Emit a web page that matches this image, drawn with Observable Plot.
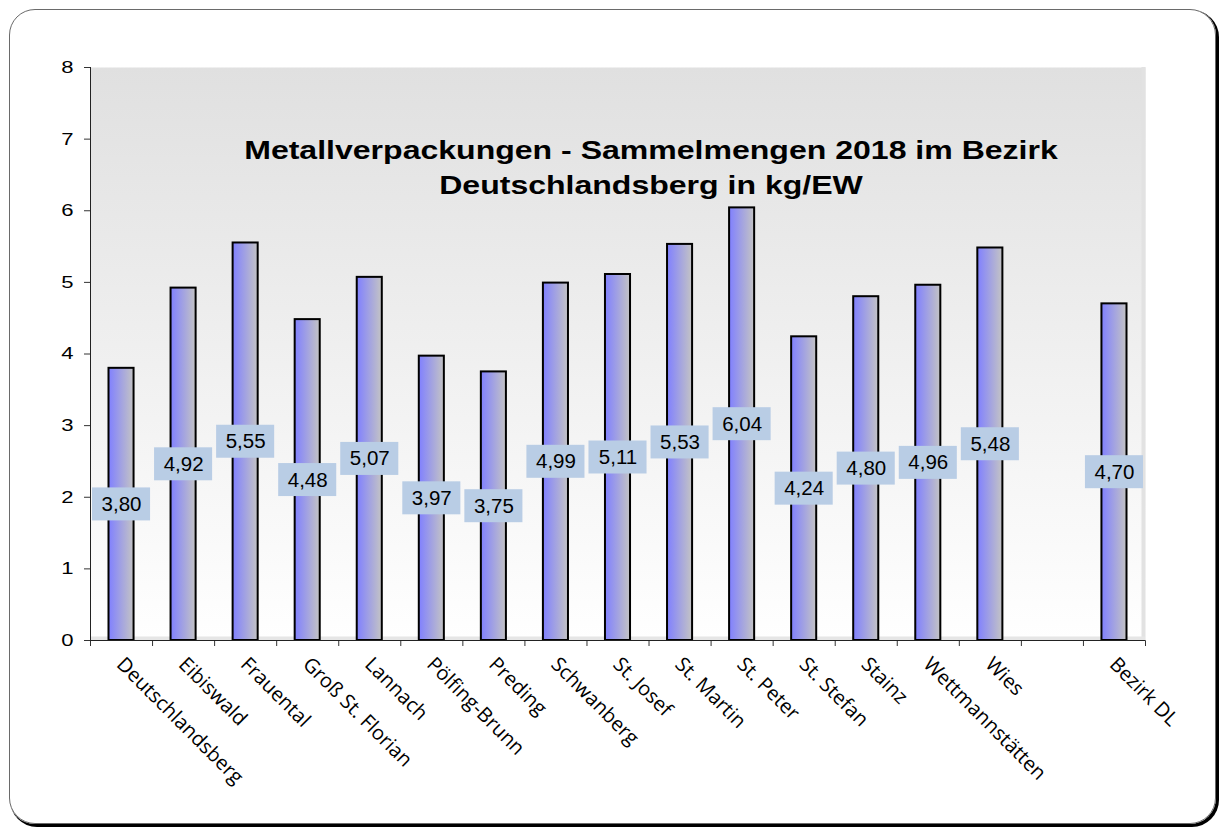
<!DOCTYPE html>
<html>
<head>
<meta charset="utf-8">
<script src="https://cdn.jsdelivr.net/npm/d3@7"></script>
<script src="https://cdn.jsdelivr.net/npm/@observablehq/plot@0.6"></script>
<style>
  html, body { margin: 0; padding: 0; background: #fff; }
  #page { position: relative; width: 1219px; height: 827px; overflow: hidden; }
  #border {
    position: absolute; left: 9px; top: 9px; width: 1205px; height: 813px;
    border: 1px solid #6a6a6a; border-radius: 26px;
    box-shadow: 2px 2px 0 1px #000;
  }
  #chart { position: absolute; left: 0; top: 0; }
</style>
</head>
<body>
<div id="page">
  <div id="border"></div>
  <div id="chart"></div>
</div>
<script>
const categories = ["Deutschlandsberg","Eibiswald","Frauental","Groß St. Florian","Lannach","Pölfing-Brunn","Preding","Schwanberg","St. Josef","St. Martin","St. Peter","St. Stefan","Stainz","Wettmannstätten","Wies","","Bezirk DL"];
const values = [3.80,4.92,5.55,4.48,5.07,3.97,3.75,4.99,5.11,5.53,6.04,4.24,4.80,4.96,5.48,null,4.70];
const yTicks = [0,1,2,3,4,5,6,7,8];
const titleText = "Metallverpackungen - Sammelmengen 2018 im Bezirk\nDeutschlandsberg in kg/EW";

const data = categories.map((c, i) => ({i, c, v: values[i]}));
const bars = data.filter(d => d.v != null);
const labels = data.filter(d => d.c !== "");
const fmt = v => v.toFixed(2).replace(".", ",");

const chart = Plot.plot({
  width: 1219,
  height: 827,
  marginLeft: 90,
  marginRight: 74,
  marginTop: 67,
  marginBottom: 187,
  style: {background: "transparent", fontFamily: "'Liberation Sans', Arial, sans-serif", fontSize: "17px", color: "#000"},
  x: {type: "linear", domain: [0, categories.length], ticks: d3.range(categories.length + 1), tickFormat: () => "", tickSize: 6, label: null},
  y: {domain: [0, 8], ticks: yTicks, tickSize: 6, tickPadding: 11, label: null, tickFormat: d => String(d)},
  marks: [
    Plot.frame({fill: "url(#bgGrad)"}),
    Plot.ruleX([categories.length], {stroke: "#e2e2e2", strokeWidth: 4, dx: -2}),
    Plot.ruleY([0], {stroke: "#e6e6e6", strokeWidth: 4, dy: -2}),
    Plot.rectY(bars, {x1: "i", x2: d => d.i + 1, y: "v", fill: "url(#barGrad)", stroke: "#000", strokeWidth: 2, insetLeft: 18.5, insetRight: 18.5}),
    Plot.rect(bars, {x1: "i", x2: d => d.i + 1, y1: d => d.v / 2, y2: d => d.v / 2, fill: "#b9cde5", insetLeft: 2, insetRight: 2, insetTop: -16.5, insetBottom: -16.5}),
    Plot.text(bars, {x: d => d.i + 0.5, y: d => d.v / 2, text: d => fmt(d.v), fontSize: 20.5, fill: "#000"}),
    Plot.ruleX([0], {stroke: "#222"}),
    Plot.ruleY([0], {stroke: "#222"}),
    Plot.text(labels, {x: d => d.i + 0.5, y: 0, text: "c", rotate: 45, textAnchor: "start", lineAnchor: "top", dx: 4, dy: 15, fontFamily: "'Open Sans', sans-serif", fontSize: 20, fill: "#000"}),
    Plot.text([titleText], {frameAnchor: "top", dx: 33, dy: 66, lineAnchor: "top", lineHeight: 1.32, fontSize: 26.7, fontWeight: "bold", fill: "#000"})
  ]
});

const svg = d3.select(chart);
const defs = svg.insert("defs", ":first-child");
const bg = defs.append("linearGradient").attr("id", "bgGrad").attr("x1", 0).attr("y1", 0).attr("x2", 0).attr("y2", 1);
bg.append("stop").attr("offset", "0%").attr("stop-color", "#e0e0e0");
bg.append("stop").attr("offset", "100%").attr("stop-color", "#ffffff");
const bar = defs.append("linearGradient").attr("id", "barGrad").attr("x1", 0).attr("y1", 0).attr("x2", 1).attr("y2", 0);
bar.append("stop").attr("offset", "0%").attr("stop-color", "#8080ff");
bar.append("stop").attr("offset", "100%").attr("stop-color", "#c4c4c4");
svg.selectAll("[aria-label='y-axis tick'] path, [aria-label='x-axis tick'] path").attr("stroke", "#333");

// horizontally widened text, as in the reference
function widen(sel, k) {
  sel.each(function() {
    const t = this.getAttribute("transform") || "";
    this.setAttribute("transform", t + ` scale(${k},1)`);
  });
}
const yLabels = svg.selectAll("g[aria-label='y-axis tick label'] text");
yLabels.style("font-size", "17px").attr("font-size", 17);
widen(yLabels, 1.3);
widen(svg.selectAll("text").filter(function() { return this.textContent.startsWith("Metallverpackungen"); }), 1.2);

document.getElementById("chart").appendChild(chart);
</script>
</body>
</html>
